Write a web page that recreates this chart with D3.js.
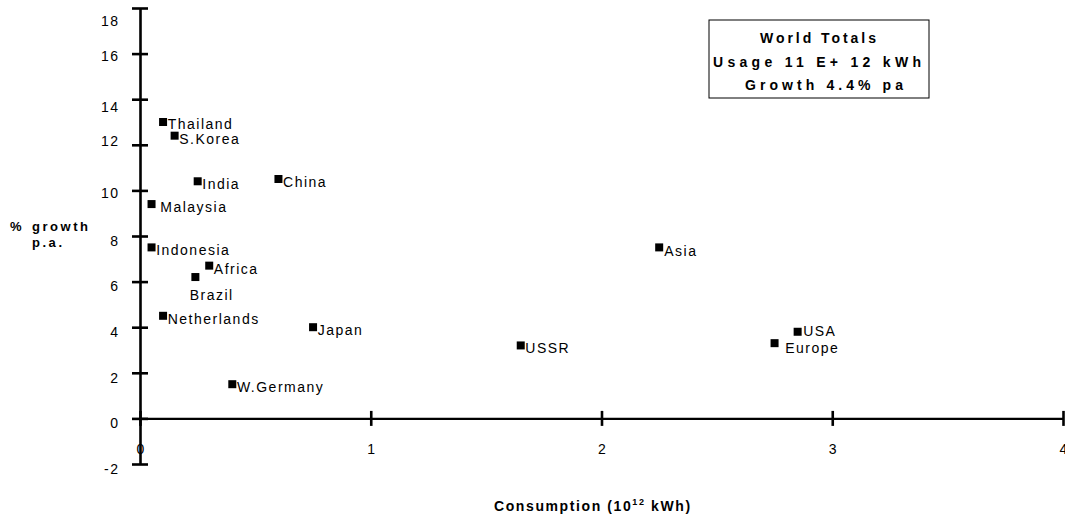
<!DOCTYPE html>
<html>
<head>
<meta charset="utf-8">
<script src="https://cdn.jsdelivr.net/npm/d3@7/dist/d3.min.js"></script>
<style>
  html, body { margin: 0; padding: 0; background: #fff; }
  svg { display: block; font-family: "Liberation Sans", Arial, sans-serif; }
</style>
</head>
<body>
<svg id="chart" width="1065" height="520"></svg>
<script>
// ---- data ----
const countries = ["Thailand","S.Korea","India","China","Malaysia","Indonesia","Africa","Brazil","Netherlands","Japan","W.Germany","Asia","USSR","USA","Europe"];
const consumption = [0.10, 0.15, 0.25, 0.60, 0.05, 0.05, 0.30, 0.24, 0.10, 0.75, 0.40, 2.25, 1.65, 2.85, 2.75];
const growth = [13.0, 12.4, 10.4, 10.5, 9.4, 7.5, 6.7, 6.2, 4.5, 4.0, 1.5, 7.5, 3.2, 3.8, 3.3];
const xTicks = [0, 1, 2, 3, 4];
const yTicks = [-2, 0, 2, 4, 6, 8, 10, 12, 14, 16, 18];
const boxLines = ["World Totals", "Usage 11 E+ 12 kWh", "Growth 4.4% pa"];

// ---- layout ----
const svg = d3.select("#chart");
const x = d3.scaleLinear().domain([0, 4]).range([140, 1063]);
const y = d3.scaleLinear().domain([-2, 18]).range([464, 8]);
const plain = d => String(d);

// y axis
const yAxis = svg.append("g")
  .attr("transform", `translate(${x(0)},0)`)
  .call(d3.axisLeft(y).tickValues(yTicks).tickSizeOuter(0).tickFormat(plain));
yAxis.select(".domain").attr("stroke", "#000").attr("stroke-width", 2.6);
yAxis.selectAll(".tick line").attr("x1", -8).attr("x2", 8).attr("stroke", "#000").attr("stroke-width", 2.6);
// slight irregular label placement as in the original
const yLabelShift = {18: 12, 16: 1.5, 14: 7, 12: -4, 10: 2, 2: 5};
yAxis.selectAll(".tick text")
  .attr("x", -20.5)
  .attr("dy", null)
  .attr("y", d => (yLabelShift[d] !== undefined ? yLabelShift[d] : 4) + 5)
  .attr("fill", "#000")
  .style("font-size", "14px")
  .style("letter-spacing", "1.5px")
  .style("font-family", "Liberation Sans, Arial, sans-serif");

// x axis
const xAxis = svg.append("g")
  .attr("transform", `translate(0,${y(0)})`)
  .call(d3.axisBottom(x).tickValues(xTicks).tickSizeOuter(0).tickFormat(plain));
xAxis.select(".domain").attr("stroke", "#000").attr("stroke-width", 2.4);
xAxis.selectAll(".tick line").attr("y1", -7.5).attr("y2", 7.5).attr("stroke", "#000").attr("stroke-width", 2.6);
xAxis.selectAll(".tick text")
  .attr("y", 35.5)
  .attr("dy", null)
  .attr("dx", "0.75px")
  .attr("fill", "#000")
  .style("font-size", "14px")
  .style("letter-spacing", "1.5px")
  .style("font-family", "Liberation Sans, Arial, sans-serif");

// points
const pts = countries.map((c, i) => ({name: c, cx: consumption[i], gy: growth[i]}));
svg.append("g").selectAll("rect").data(pts).join("rect")
  .attr("x", d => x(d.cx) - 4)
  .attr("y", d => y(d.gy) - 4)
  .attr("width", 8).attr("height", 8)
  .attr("fill", "#000");

// point labels
const labelPlace = {
  "Thailand": {dx: 4.6, dy: 2},
  "Malaysia": {dx: 8.7, dy: 3},
  "Brazil": {dx: -5.7, dy: 18},
  "Europe": {dx: 10.7, dy: 5},
  "USA": {dx: 5.5, dy: -1},
  "Asia": {dx: 5, dy: 4}
};
svg.append("g").selectAll("text").data(pts).join("text")
  .attr("x", d => x(d.cx) + (labelPlace[d.name] ? labelPlace[d.name].dx : 4.6))
  .attr("y", d => y(d.gy) + (labelPlace[d.name] ? labelPlace[d.name].dy : 3) + 5)
  .style("font-size", "14px")
  .style("letter-spacing", "1.5px")
  .attr("fill", "#000")
  .text(d => d.name);

// world totals box
svg.append("rect")
  .attr("x", 709).attr("y", 20).attr("width", 220).attr("height", 78)
  .attr("fill", "#fff").attr("stroke", "#000").attr("stroke-width", 1);
const boxCenters = [818, 817, 824];
const boxWidths = [116, 208, 158];
const boxBase = [43, 67, 90];
svg.append("g").selectAll("text").data(boxLines).join("text")
  .attr("x", (d, i) => boxCenters[i])
  .attr("y", (d, i) => boxBase[i])
  .attr("text-anchor", "middle")
  .attr("textLength", (d, i) => boxWidths[i])
  .attr("lengthAdjust", "spacing")
  .style("font-size", "14px")
  .style("font-weight", "bold")
  .text(d => d);

// x axis title
const xt = svg.append("text")
  .attr("x", 494).attr("y", 511)
  .style("font-size", "14px")
  .style("font-weight", "bold")
  .style("letter-spacing", "1.6px");
xt.append("tspan").text("Consumption (10");
xt.append("tspan").attr("dy", -6).style("font-size", "9px").text("12");
xt.append("tspan").attr("dy", 6).text(" kWh)");

// y axis title
svg.append("text").attr("x", 10).attr("y", 231)
  .style("font-size", "13px").style("font-weight", "bold").text("%");
svg.append("text").attr("x", 32).attr("y", 231)
  .attr("textLength", 56).attr("lengthAdjust", "spacing")
  .style("font-size", "13px").style("font-weight", "bold").text("growth");
svg.append("text").attr("x", 32).attr("y", 247)
  .attr("textLength", 30).attr("lengthAdjust", "spacing")
  .style("font-size", "13px").style("font-weight", "bold").text("p.a.");
</script>
</body>
</html>
